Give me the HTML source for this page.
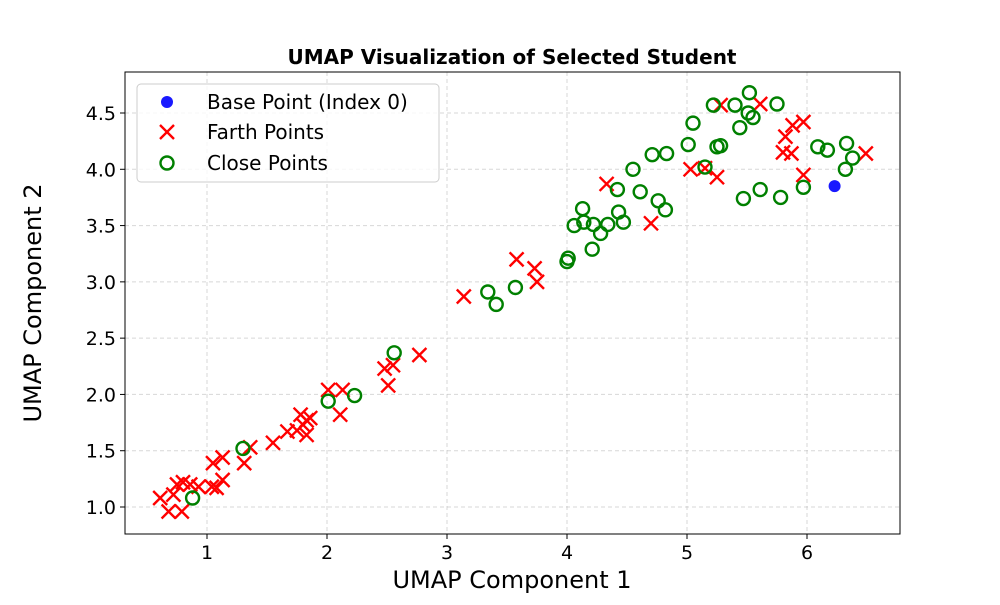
<!DOCTYPE html>
<html><head><meta charset="utf-8"><style>
body{margin:0;background:#fff;font-family:"Liberation Sans","DejaVu Sans",sans-serif}
</style></head><body>
<svg id="chart" width="1000" height="600" xmlns="http://www.w3.org/2000/svg" font-family="DejaVu Sans, Liberation Sans, sans-serif">
<rect width="1000" height="600" fill="#fff"/>
<text x="512" y="64" text-anchor="middle" font-size="20" font-weight="bold">UMAP Visualization of Selected Student</text>
<g id="grid"></g>
<g id="marks"></g>
<rect x="125" y="72" width="775" height="462" fill="none" stroke="#000" stroke-width="1"/>
<g id="ticks"></g>
<text x="512" y="588" text-anchor="middle" font-size="24">UMAP Component 1</text>
<text x="0" y="0" transform="translate(41,303) rotate(-90)" text-anchor="middle" font-size="24">UMAP Component 2</text>
<g>
<rect x="137" y="84" width="302" height="98" rx="4" fill="#fff" fill-opacity="0.8" stroke="#ccc"/>
<g><circle cx="167" cy="102" r="6" fill="blue" fill-opacity="0.9"/><text x="207" y="109" font-size="20">Base Point (Index 0)</text></g>
<g><path d="M160,125 L174,139 M174,125 L160,139" stroke="red" stroke-width="2.4"/><text x="207" y="139" font-size="20">Farth Points</text></g>
<g><circle cx="167" cy="163" r="6.5" fill="none" stroke="green" stroke-width="2.4"/><text x="207" y="170" font-size="20">Close Points</text></g>
</g>
</svg>
<script>
const xTicks=[1,2,3,4,5,6];
const yTicks=[1.0,1.5,2.0,2.5,3.0,3.5,4.0,4.5];
const yTickLabels=["1.0","1.5","2.0","2.5","3.0","3.5","4.0","4.5"];
const baseX=[6.23];
const baseY=[3.85];
const farX=[0.61,0.68,0.79,0.72,0.75,0.80,0.86,0.93,1.05,1.13,1.04,1.08,1.13,1.31,1.36,1.55,1.67,1.75,1.78,1.80,1.83,1.83,1.86,2.01,2.11,2.13,2.48,2.55,2.51,2.77,3.14,3.58,3.73,3.75,4.33,4.70,5.03,5.15,5.25,5.28,5.61,5.88,5.97,5.82,5.80,5.87,5.97,6.49];
const farY=[1.08,0.96,0.96,1.11,1.20,1.22,1.20,1.18,1.39,1.44,1.18,1.17,1.24,1.39,1.53,1.57,1.67,1.68,1.82,1.73,1.77,1.64,1.79,2.04,1.82,2.04,2.23,2.26,2.08,2.35,2.87,3.20,3.12,3.00,3.87,3.52,4.00,4.01,3.93,4.57,4.58,4.39,4.42,4.29,4.15,4.14,3.95,4.14];
const closeX=[0.88,1.30,2.01,2.23,2.56,3.34,3.41,3.57,4.01,4.00,4.21,4.06,4.13,4.14,4.22,4.28,4.34,4.43,4.47,4.42,4.61,4.55,4.76,4.82,4.71,4.83,5.01,5.05,5.15,5.22,5.25,5.28,5.40,5.52,5.51,5.55,5.44,5.75,5.47,5.61,5.78,5.97,6.09,6.17,6.33,6.38,6.32];
const closeY=[1.08,1.52,1.94,1.99,2.37,2.91,2.80,2.95,3.21,3.18,3.29,3.50,3.65,3.53,3.51,3.43,3.51,3.62,3.53,3.82,3.80,4.00,3.72,3.64,4.13,4.14,4.22,4.41,4.02,4.57,4.20,4.21,4.57,4.68,4.50,4.46,4.37,4.58,3.74,3.82,3.75,3.84,4.20,4.17,4.23,4.10,4.00];
const NS="http://www.w3.org/2000/svg";
const sx=v=>87+120*v;
const sy=v=>507-112.57*(v-1);
function mk(tag,attrs,parent){const e=document.createElementNS(NS,tag);for(const k in attrs)e.setAttribute(k,attrs[k]);parent.appendChild(e);return e;}
const grid=document.getElementById('grid'),ticks=document.getElementById('ticks'),marks=document.getElementById('marks');
xTicks.forEach(t=>{const x=sx(t);
 const g=mk('line',{x1:x,x2:x,y1:72,y2:534,stroke:'#b0b0b0','stroke-opacity':0.5,'stroke-dasharray':'4,3'},grid);
 
 
 mk('line',{x1:x,x2:x,y1:534,y2:539,stroke:'#000'},ticks);
 const l=mk('text',{x:x,y:559,'text-anchor':'middle','font-size':19},ticks);l.textContent=t;
 
 
});
yTicks.forEach((t,i)=>{const y=sy(t);
 const g=mk('line',{x1:125,x2:900,y1:y,y2:y,stroke:'#b0b0b0','stroke-opacity':0.5,'stroke-dasharray':'4,3'},grid);
 
 
 mk('line',{x1:120,x2:125,y1:y,y2:y,stroke:'#000'},ticks);
 const l=mk('text',{x:116,y:y+7,'text-anchor':'end','font-size':19},ticks);l.textContent=yTickLabels[i];
 
 
});
farX.forEach((v,i)=>{const x=sx(v),y=sy(farY[i]);
 const p=mk('path',{d:`M${x-7},${y-7}L${x+7},${y+7}M${x+7},${y-7}L${x-7},${y+7}`,stroke:'red','stroke-width':2.4,fill:'none'},marks);
 
 
});
closeX.forEach((v,i)=>{
 const c=mk('circle',{cx:sx(v),cy:sy(closeY[i]),r:6.5,fill:'none',stroke:'green','stroke-width':2.4},marks);
 
 
});
baseX.forEach((v,i)=>{
 const c=mk('circle',{cx:sx(v),cy:sy(baseY[i]),r:6,fill:'blue','fill-opacity':0.9},marks);
 
 
});
</script>
</body></html>
